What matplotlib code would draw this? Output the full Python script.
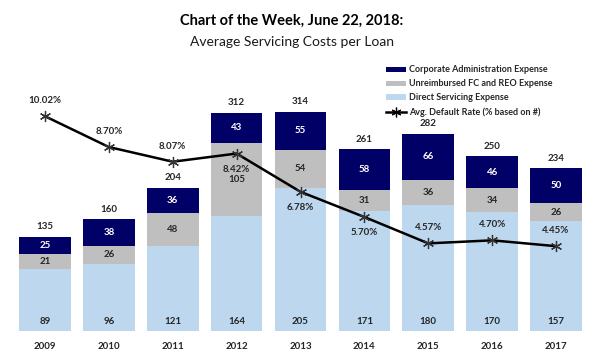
import matplotlib
matplotlib.use("Agg")
import matplotlib.pyplot as plt
from matplotlib.patches import Patch
from matplotlib.lines import Line2D

plt.rcParams['font.family'] = ['Lato', 'DejaVu Sans']

years = ['2009', '2010', '2011', '2012', '2013', '2014', '2015', '2016', '2017']
direct = [89, 96, 121, 164, 205, 171, 180, 170, 157]
unreimb = [21, 26, 48, 105, 54, 31, 36, 34, 26]
corp = [25, 38, 36, 43, 55, 58, 66, 46, 50]
totals = [135, 160, 204, 312, 314, 261, 282, 250, 234]
rate = [10.02, 8.70, 8.07, 8.42, 6.78, 5.70, 4.57, 4.70, 4.45]
rate_label_above = [True, True, True, False, False, False, True, True, True]

c_navy = '#000066'
c_gray = '#BFBFBF'
c_blue = '#BDD7EE'

fig = plt.figure(figsize=(6.0, 3.61), dpi=100)
ax = fig.add_axes([13/600, 30/361, 575/600, 271/361])
x = list(range(len(years)))
w = 0.81

ax.bar(x, direct, w, color=c_blue, zorder=2)
ax.bar(x, unreimb, w, bottom=direct, color=c_gray, zorder=2)
b2 = [d + u for d, u in zip(direct, unreimb)]
ax.bar(x, corp, w, bottom=b2, color=c_navy, zorder=2)

fs = 7
for i in x:
    ax.annotate(str(direct[i]), (i, 0), xytext=(0, 3.5), textcoords='offset points',
                ha='center', va='bottom', fontsize=fs, fontweight='bold', color='#262626')
    ax.text(i, direct[i] + unreimb[i] / 2, str(unreimb[i]), ha='center', va='center',
            fontsize=fs, fontweight='bold', color='#262626')
    ax.text(i, b2[i] + corp[i] / 2, str(corp[i]), ha='center', va='center',
            fontsize=fs, fontweight='bold', color='white')
    ax.annotate(str(totals[i]), (i, b2[i] + corp[i]), xytext=(0, 4), textcoords='offset points',
                ha='center', va='bottom', fontsize=fs, fontweight='bold', color='#262626')

ax.set_xlim(-0.5, len(years) - 0.5)
ax.set_ylim(0, 387.7)
ax.set_xticks(x)
ax.set_xticklabels(years, fontsize=fs, fontweight='bold', color='#262626')
ax.tick_params(axis='x', length=0, pad=8)
ax.set_yticks([])
for s in ax.spines.values():
    s.set_visible(False)

ax2 = ax.twinx()
ax2.set_ylim(0.814, 12.43)
ax2.plot(x, rate, color='black', lw=1.8, marker=(6, 2, 0), markersize=8,
         markeredgewidth=0.9, markeredgecolor='#333333', zorder=5)
for i in x:
    off = 8 if rate_label_above[i] else -8
    ax2.annotate(f'{rate[i]:.2f}%', (i, rate[i]), xytext=(0, off), textcoords='offset points',
                 ha='center', va='bottom' if rate_label_above[i] else 'top',
                 fontsize=fs, fontweight='bold', color='#262626')
ax2.set_yticks([])
for s in ax2.spines.values():
    s.set_visible(False)

fig.text(292/600, 1 - 21/361, 'Chart of the Week, June 22, 2018:', ha='center', va='center',
         fontsize=10.5, fontweight='bold', color='black')
fig.text(292/600, 1 - 42/361, 'Average Servicing Costs per Loan', ha='center', va='center',
         fontsize=10, color='#1a1a1a')

handles = [Patch(facecolor=c_navy), Patch(facecolor=c_gray), Patch(facecolor=c_blue),
           Line2D([0], [0], color='black', lw=1.8, marker=(6, 2, 0), markersize=7,
                  markeredgewidth=0.9)]
labels = ['Corporate Administration Expense', 'Unreimbursed FC and REO Expense',
          'Direct Servicing Expense', 'Avg. Default Rate (% based on #)']
fig.legend(handles, labels, loc='upper left', bbox_to_anchor=(380/600, 1 - 59/361),
           frameon=False, handlelength=2.2, handleheight=0.5,
           handletextpad=0.3, labelspacing=0.55, borderpad=0.2,
           prop={'weight': 'bold', 'size': 6.5})
for t in fig.legends[0].get_texts():
    t.set_color('#262626')

fig.savefig('out.png', dpi=100, facecolor='white')
